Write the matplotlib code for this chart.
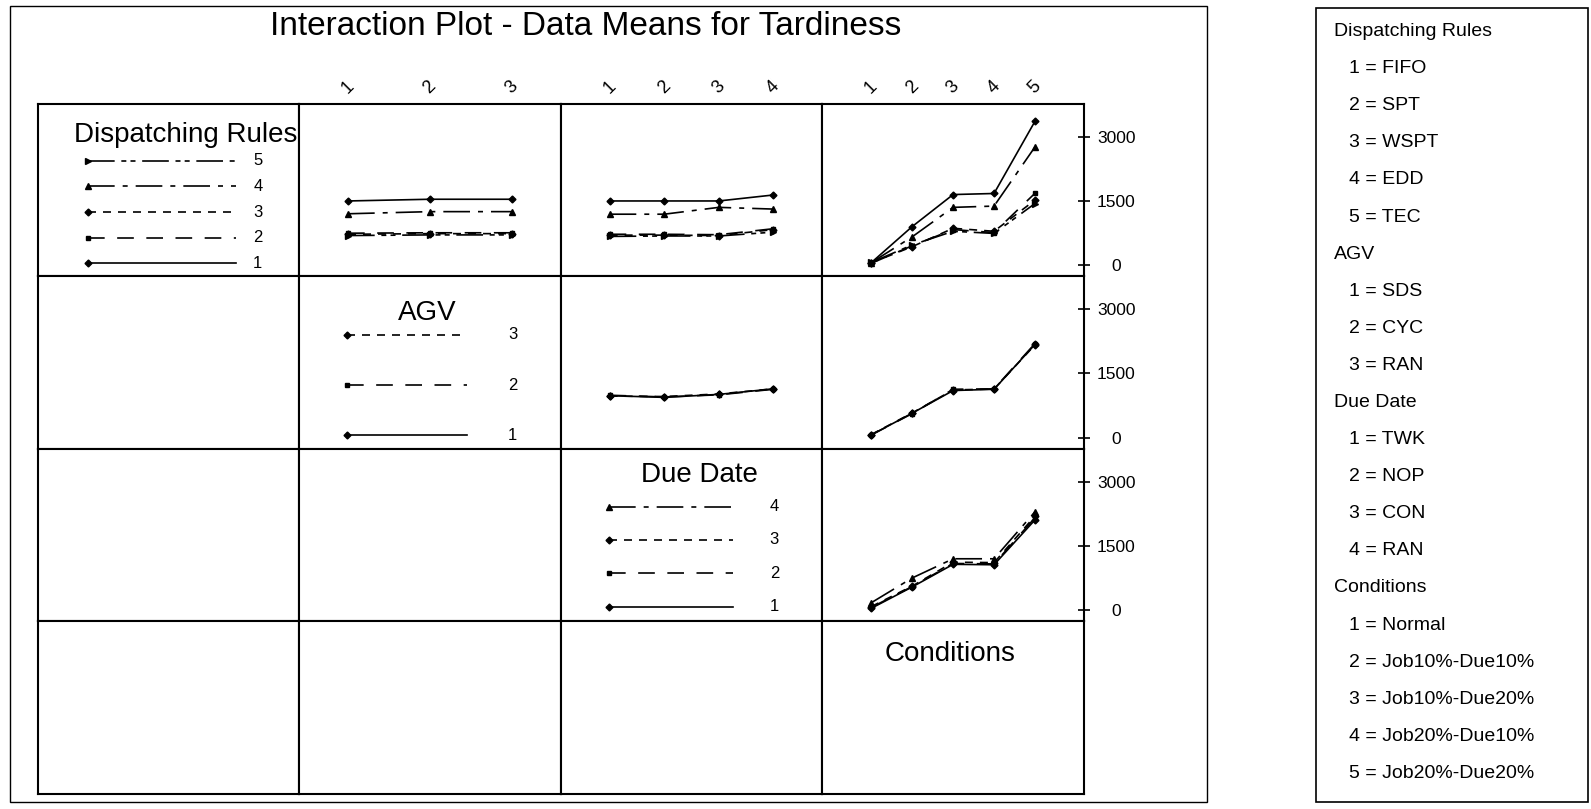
import matplotlib
matplotlib.use("Agg")
import matplotlib.pyplot as plt
from matplotlib.patches import Rectangle

plt.rcParams['font.family'] = ['Liberation Sans', 'DejaVu Sans']

title = "Interaction Plot - Data Means for Tardiness"
factors = ["Dispatching Rules", "AGV", "Due Date", "Conditions"]
level_names = [
    ["FIFO", "SPT", "WSPT", "EDD", "TEC"],
    ["SDS", "CYC", "RAN"],
    ["TWK", "NOP", "CON", "RAN"],
    ["Normal", "Job10%-Due10%", "Job10%-Due20%", "Job20%-Due10%", "Job20%-Due20%"],
]
y_ticks = [0, 1500, 3000]

# povprecja: vrstica = faktor sledi, stolpec = faktor na osi x
dr_by_agv = [
    [1500, 1540, 1540],
    [745, 755, 755],
    [720, 735, 735],
    [1200, 1250, 1250],
    [690, 705, 705],
]
dr_by_due = [
    [1500, 1500, 1500, 1640],
    [720, 720, 710, 850],
    [700, 700, 690, 830],
    [1190, 1190, 1350, 1310],
    [670, 680, 680, 770],
]
dr_by_cond = [
    [55, 900, 1650, 1675, 3365],
    [40, 450, 830, 760, 1680],
    [50, 430, 860, 790, 1520],
    [55, 660, 1350, 1380, 2765],
    [60, 470, 790, 740, 1440],
]
agv_by_due = [
    [980, 940, 1010, 1140],
    [990, 950, 1000, 1130],
    [970, 960, 1020, 1140],
]
agv_by_cond = [
    [60, 570, 1100, 1130, 2180],
    [60, 560, 1130, 1140, 2200],
    [70, 575, 1115, 1135, 2170],
]
due_by_cond = [
    [40, 540, 1070, 1060, 2110],
    [60, 550, 1090, 1080, 2160],
    [80, 560, 1120, 1110, 2200],
    [170, 750, 1200, 1200, 2300],
]
means = {
    (0, 1): dr_by_agv, (0, 2): dr_by_due, (0, 3): dr_by_cond,
    (1, 2): agv_by_due, (1, 3): agv_by_cond,
    (2, 3): due_by_cond,
}

# stili crt po nivojih (kot v Minitabu)
lw = 1.2
styles = ['-', (0, (10, 7.5)), (0, (4.8, 4.2)), (0, (16, 4.8, 3, 4.8)), (0, (16, 4, 3, 2.5, 3, 4))]
markers = ['D', 's', 'D', '^', '>']
msizes = [3.5, 3.2, 3.5, 4.5, 4.0]

W, H = 1591, 809
fig = plt.figure(figsize=(W/100, H/100), dpi=100)

gx0, gy0 = 37.5, 103.5
cw, ch = 261.6, 172.5
ylim = (-257, 3782)

# polozaj legend v diagonalnih celicah (v deležih osi)
leg = {
    0: dict(t=(0.567, 0.817), ys=[0.075, 0.223, 0.371, 0.519, 0.667], x0=0.193, x1=0.76, xl=0.842),
    1: dict(t=(0.489, 0.787), ys=[0.078, 0.368, 0.658], x0=0.184, x1=0.64, xl=0.817),
    2: dict(t=(0.53, 0.846), ys=[0.083, 0.278, 0.470, 0.663], x0=0.184, x1=0.66, xl=0.817),
    3: dict(t=(0.49, 0.809)),
}

for r in range(4):
    for c in range(4):
        ax = fig.add_axes([(gx0 + c*cw)/W, 1 - (gy0 + (r+1)*ch)/H, cw/W, ch/H])
        for s in ax.spines.values():
            s.set_linewidth(1.5)
        n = len(level_names[c])
        pad = 49*(n-1)/164
        ax.set_xlim(1 - pad, n + pad)
        ax.set_ylim(*ylim)
        ax.set_xticks([])
        ax.set_yticks([])
        if c == r:
            L = leg[r]
            ax.text(L['t'][0], L['t'][1], factors[r], transform=ax.transAxes,
                    ha='center', va='center', fontsize=20)
            if r < 3:
                for i, y in enumerate(L['ys']):
                    ax.plot([L['x0'], L['x1']], [y, y], transform=ax.transAxes, color='k',
                            lw=lw, ls=styles[i], marker=markers[i], ms=msizes[i], markevery=[0])
                    ax.text(L['xl'], y, str(i+1), transform=ax.transAxes,
                            ha='center', va='center', fontsize=12)
        elif c > r:
            x = list(range(1, n+1))
            for i, row in enumerate(means[(r, c)]):
                ax.plot(x, row, color='k', lw=lw, ls=styles[i],
                        marker=markers[i], ms=msizes[i])
            if r == 0:
                ax.xaxis.tick_top()
                ax.set_xticks(x)
                ax.set_xticklabels([str(v) for v in x], rotation=45, ha='center', va='center')
                ax.tick_params(axis='x', length=0, pad=11.5, labelsize=13)
            if c == 3:
                ax.yaxis.tick_right()
                ax.set_yticks(y_ticks)
                ax.tick_params(axis='y', direction='inout', length=8.6, width=1.2,
                               labelsize=12.5, pad=19)
                for lab in ax.get_yticklabels():
                    lab.set_horizontalalignment('center')

# okvirji
fig.add_artist(Rectangle((10/W, 1 - 802/H), 1197/W, 796/H, transform=fig.transFigure,
                         fill=False, ec='k', lw=1.0))
fig.add_artist(Rectangle((1316/W, 1 - 802/H), 272/W, 794/H, transform=fig.transFigure,
                         fill=False, ec='k', lw=1.2))

fig.text(586/W, 1 - 26.5/H, title, ha='center', va='center', fontsize=24)

# desna legenda
lines = []
for f, names in zip(factors, level_names):
    lines.append((f, False))
    for k, nm in enumerate(names):
        lines.append((f"{k+1} = {nm}", True))
y0, y1 = 31.5, 773.5
dy = (y1 - y0)/(len(lines) - 1)
for k, (txt, ind) in enumerate(lines):
    fig.text((1349 if ind else 1334)/W, 1 - (y0 + k*dy)/H, txt, ha='left', va='center', fontsize=14)

fig.savefig("out.png", dpi=100)
